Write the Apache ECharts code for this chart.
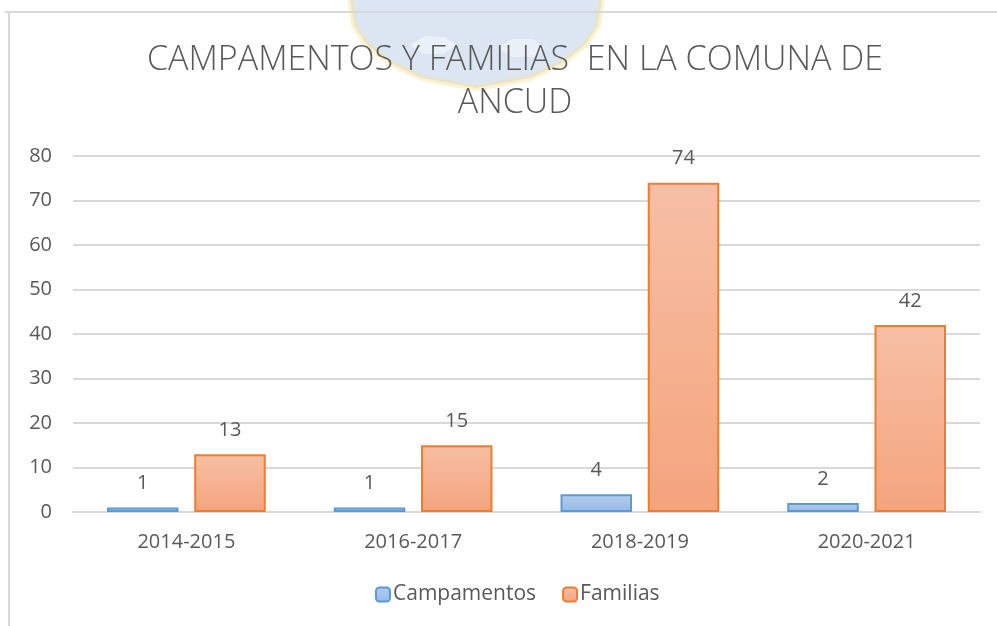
<!DOCTYPE html>
<html>
<head>
<meta charset="utf-8">
<script src="https://cdn.jsdelivr.net/npm/echarts@6/dist/echarts.min.js"></script>
<style>
  html, body { margin: 0; padding: 0; background: #fff; }
  #main { width: 997px; height: 626px; }
</style>
</head>
<body>
<div id="main"></div>
<script>
// datos del gráfico
var periodos = ["2014-2015", "2016-2017", "2018-2019", "2020-2021"];
var campamentos = [1, 1, 4, 2];
var familias = [13, 15, 74, 42];
var ticksY = { min: 0, max: 80, interval: 10 };

var gris = "#595959";
var fuente = "'Open Sans', 'Liberation Sans', sans-serif";

var chart = echarts.init(document.getElementById("main"));

function grad(top, bottom) {
  return new echarts.graphic.LinearGradient(0, 0, 0, 1, [
    { offset: 0, color: top },
    { offset: 1, color: bottom }
  ]);
}

var option = {
  animation: false,
  backgroundColor: "#fff",
  textStyle: { fontFamily: fuente },
  title: {
    text: "CAMPAMENTOS Y FAMILIAS  EN LA COMUNA DE\nANCUD",
    left: 510,
    top: 34,
    textAlign: "center",
    textStyle: {
      color: gris,
      fontSize: 34,
      fontWeight: 300,
      fontFamily: fuente,
      lineHeight: 43
    }
  },
  graphic: [
    // marca de agua tenue (escudo)
    {
      type: "polygon",
      shape: {
        points: [[350, -4], [602, -4], [598, 25], [585, 45], [562, 63], [530, 78], [476, 88],
                 [422, 78], [390, 63], [367, 45], [354, 25]]
      },
      style: { fill: "rgba(160,188,222,0.38)", stroke: "rgba(248,225,150,0.45)", lineWidth: 6 },
      z: 0
    },
    {
      type: "polygon",
      shape: { points: [[410, 45], [425, 36], [445, 37], [456, 45], [444, 54], [424, 54]] },
      style: { fill: "rgba(255,255,255,0.45)" },
      z: 1
    },
    {
      type: "polygon",
      shape: { points: [[498, 48], [512, 39], [533, 39], [546, 48], [533, 57], [512, 57]] },
      style: { fill: "rgba(255,255,255,0.45)" },
      z: 1
    },
    // marco
    { type: "line", shape: { x1: 5, y1: 12, x2: 997, y2: 12 }, style: { stroke: "#d9d9d9", lineWidth: 2 }, z: 50 },
    { type: "line", shape: { x1: 9, y1: 12, x2: 9, y2: 626 }, style: { stroke: "#d9d9d9", lineWidth: 2 }, z: 50 }
  ],
  legend: {
    bottom: 16,
    left: 370,
    itemWidth: 14,
    itemHeight: 14,
    itemGap: 26,
    textStyle: { color: gris, fontSize: 21, fontFamily: fuente, padding: [0, 0, 0, -2] },
    data: ["Campamentos", "Familias"]
  },
  grid: { left: 73, right: 17, top: 156, bottom: 114 },
  xAxis: {
    type: "category",
    data: periodos,
    axisLine: { lineStyle: { color: "#d9d9d9", width: 2 } },
    axisTick: { show: false },
    axisLabel: { color: gris, fontSize: 20, margin: 20, fontFamily: fuente }
  },
  yAxis: {
    type: "value",
    min: ticksY.min,
    max: ticksY.max,
    interval: ticksY.interval,
    axisLine: { show: false },
    axisTick: { show: false },
    axisLabel: { color: gris, fontSize: 20, margin: 21, fontFamily: fuente },
    splitLine: { lineStyle: { color: "#d9d9d9", width: 2 } }
  },
  series: [
    {
      name: "Campamentos",
      type: "bar",
      data: campamentos,
      barGap: "22%",
      barCategoryGap: "30%",
      itemStyle: { color: grad("#b3cdee", "#97b9e6"), borderColor: "#5b9bd5", borderWidth: 2 },
      label: { show: true, position: "top", distance: 14, color: gris, fontSize: 20, fontFamily: fuente }
    },
    {
      name: "Familias",
      type: "bar",
      data: familias,
      itemStyle: { color: grad("#f7bfa5", "#f4a47d"), borderColor: "#ed7d31", borderWidth: 2 },
      label: { show: true, position: "top", distance: 14, color: gris, fontSize: 20, fontFamily: fuente }
    }
  ]
};

chart.setOption(option);
</script>
</body>
</html>
